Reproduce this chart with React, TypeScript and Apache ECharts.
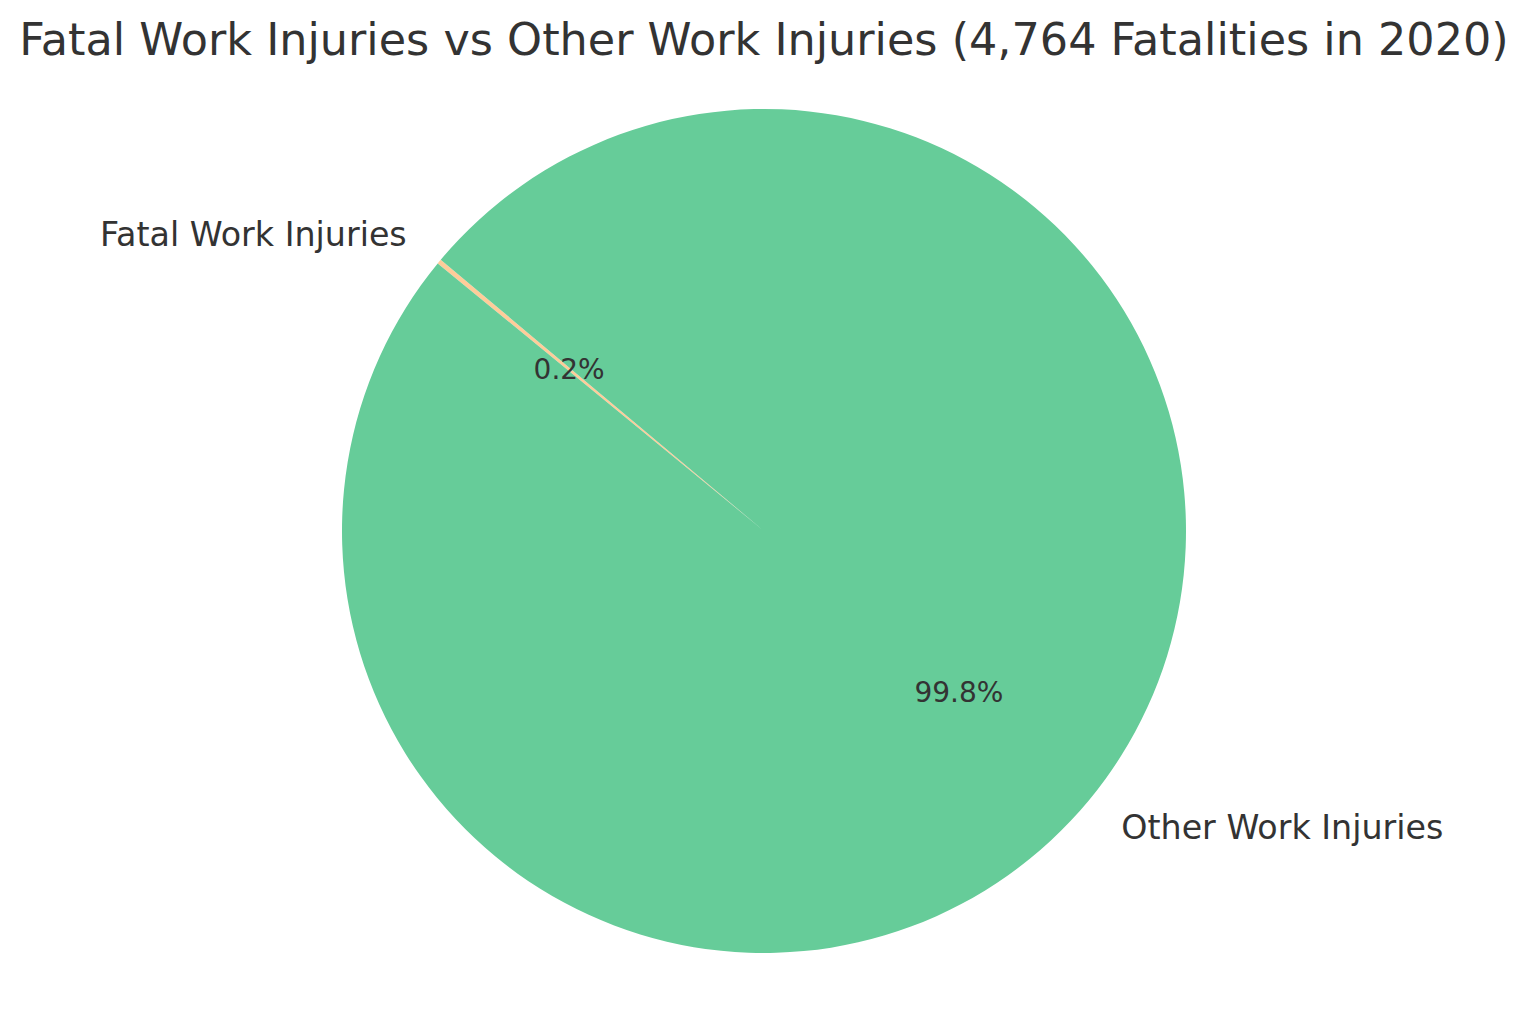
import React, { useEffect, useRef } from "react";
import * as echarts from "echarts";

const TITLE = "Fatal Work Injuries vs Other Work Injuries (4,764 Fatalities in 2020)";
const categories = ["Fatal Work Injuries", "Other Work Injuries"];
const values = [4764, 2654700];
const colors = ["#ffcc99", "#66cc99"];

const W = 1528;
const H = 1014;
const CX = 764;
const CY = 531;
const R = 422;
const FONT = "DejaVu Sans";

export default function App() {
  const ref = useRef<HTMLDivElement>(null);
  useEffect(() => {
    if (!ref.current) return;
    const chart = echarts.init(ref.current, undefined, { renderer: "svg" });
    const data = categories.map((name, i) => ({
      name,
      value: values[i],
      itemStyle: { color: colors[i] },
    }));
    chart.setOption({
      animation: false,
      backgroundColor: "#ffffff",
      title: {
        text: TITLE,
        left: "center",
        top: 12,
        textStyle: {
          fontFamily: FONT,
          fontSize: 44.5,
          fontWeight: "normal",
          color: "#333333",
        },
      },
      series: [
        {
          type: "pie",
          center: [CX, CY],
          radius: [0, R],
          startAngle: 140,
          clockwise: false,
          avoidLabelOverlap: false,
          silent: true,
          data,
          itemStyle: { borderWidth: 0 },
          label: {
            show: true,
            position: "outside",
            formatter: "{b}",
            fontFamily: FONT,
            fontSize: 33.3,
            color: "#333333",
            distanceToLabelLine: 0,
          },
          labelLine: { show: false, length: R * 0.1, length2: 0 },
          emphasis: { disabled: true },
        },
        {
          type: "pie",
          center: [CX, CY],
          radius: [0, R * 1.2 - 6],
          startAngle: 140,
          clockwise: false,
          avoidLabelOverlap: false,
          silent: true,
          percentPrecision: 1,
          data: categories.map((name, i) => ({
            name,
            value: values[i],
            itemStyle: { color: "rgba(0,0,0,0)" },
          })),
          label: {
            show: true,
            position: "inside",
            formatter: "{d}%",
            fontFamily: FONT,
            fontSize: 28,
            color: "#333333",
          },
          labelLine: { show: false },
          emphasis: { disabled: true },
        },
      ],
    });
    return () => chart.dispose();
  }, []);
  return (
    <div
      ref={ref}
      style={{ position: "absolute", left: 0, top: 0, width: W, height: H }}
    />
  );
}
